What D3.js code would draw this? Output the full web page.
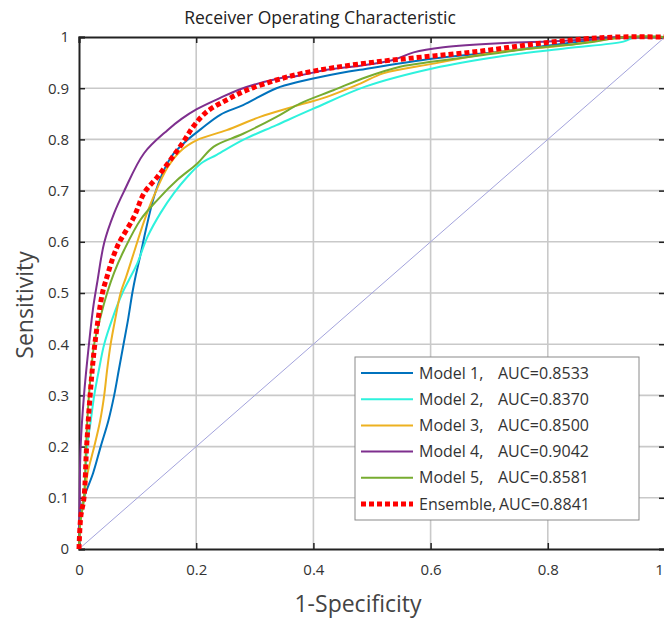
<!DOCTYPE html>
<html><head><meta charset="utf-8">
<script src="https://cdn.jsdelivr.net/npm/d3@7/dist/d3.min.js"></script>
<style>body{margin:0;background:#fff}svg{display:block}text{font-family:"Open Sans",sans-serif}</style>
</head><body><svg id="c" width="664" height="619"></svg>
<script>
const xTicks=[0,0.2,0.4,0.6,0.8,1];
const xTickLabels=["0","0.2","0.4","0.6","0.8","1"];
const yTicks=[0,0.1,0.2,0.3,0.4,0.5,0.6,0.7,0.8,0.9,1];
const yTickLabels=["0","0.1","0.2","0.3","0.4","0.5","0.6","0.7","0.8","0.9","1"];
const seriesNames=["Model 1,","Model 2,","Model 3,","Model 4,","Model 5,","Ensemble,"];
const aucLabels=["AUC=0.8533","AUC=0.8370","AUC=0.8500","AUC=0.9042","AUC=0.8581","AUC=0.8841"];
const model1=[[0,0],[0.002,0.063],[0.0085,0.1],[0.024,0.148],[0.037,0.2],[0.050,0.25],[0.060,0.3],[0.068,0.35],[0.076,0.4],[0.084,0.45],[0.091,0.5],[0.097,0.535],[0.105,0.575],[0.114,0.623],[0.128,0.688],[0.145,0.740],[0.162,0.773],[0.185,0.799],[0.208,0.820],[0.241,0.848],[0.280,0.867],[0.337,0.900],[0.377,0.913],[0.420,0.924],[0.480,0.936],[0.605,0.958],[0.718,0.971],[0.832,0.988],[0.934,1.0],[1,1]];
const model2=[[0,0],[0.002,0.05],[0.0085,0.1],[0.014,0.2],[0.020,0.25],[0.026,0.3],[0.034,0.35],[0.043,0.4],[0.057,0.45],[0.074,0.5],[0.085,0.525],[0.0995,0.558],[0.117,0.610],[0.139,0.656],[0.162,0.695],[0.185,0.727],[0.208,0.753],[0.235,0.770],[0.280,0.799],[0.337,0.828],[0.400,0.860],[0.491,0.904],[0.605,0.939],[0.718,0.962],[0.832,0.978],[0.929,0.991],[0.95,1.0],[1,1]];
const model3=[[0,0],[0.002,0.05],[0.0085,0.1],[0.015,0.15],[0.026,0.2],[0.036,0.25],[0.043,0.3],[0.048,0.35],[0.054,0.4],[0.062,0.45],[0.071,0.5],[0.080,0.53],[0.094,0.58],[0.111,0.640],[0.128,0.690],[0.151,0.745],[0.173,0.777],[0.202,0.799],[0.252,0.818],[0.309,0.844],[0.366,0.864],[0.423,0.883],[0.480,0.909],[0.519,0.929],[0.605,0.948],[0.718,0.971],[0.832,0.984],[0.934,1.0],[1,1]];
const model4=[[0,0],[0.001,0.10],[0.0028,0.2],[0.0085,0.3],[0.017,0.4],[0.024,0.47],[0.031,0.52],[0.043,0.598],[0.060,0.656],[0.077,0.699],[0.111,0.773],[0.151,0.818],[0.175,0.840],[0.201,0.859],[0.241,0.881],[0.275,0.898],[0.337,0.918],[0.377,0.925],[0.423,0.936],[0.480,0.944],[0.536,0.955],[0.571,0.970],[0.622,0.980],[0.718,0.988],[0.80,0.991],[0.923,0.999],[1,1]];
const model5=[[0,0],[0.002,0.05],[0.0085,0.1],[0.012,0.2],[0.017,0.3],[0.026,0.4],[0.036,0.45],[0.048,0.5],[0.060,0.54],[0.077,0.584],[0.105,0.643],[0.134,0.682],[0.168,0.721],[0.202,0.753],[0.230,0.786],[0.280,0.811],[0.337,0.844],[0.377,0.870],[0.434,0.896],[0.491,0.922],[0.548,0.942],[0.605,0.952],[0.690,0.965],[0.775,0.978],[0.860,0.988],[0.934,1.0],[1,1]];
const ensemble=[[0,0],[0.003,0.063],[0.0085,0.1],[0.013,0.2],[0.019,0.3],[0.027,0.4],[0.040,0.5],[0.046,0.525],[0.065,0.590],[0.094,0.649],[0.111,0.695],[0.134,0.727],[0.156,0.760],[0.178,0.795],[0.195,0.825],[0.218,0.854],[0.252,0.877],[0.286,0.896],[0.337,0.916],[0.377,0.928],[0.434,0.940],[0.519,0.953],[0.605,0.963],[0.690,0.973],[0.775,0.986],[0.860,0.996],[0.92,1.0],[1,1]];
const chance=[[0,0],[1,1]];

const svg=d3.select("#c");
const L=79,R=665,T=37,B=549;
const x=d3.scaleLinear().domain([0,1]).range([L,R]);
const y=d3.scaleLinear().domain([0,1]).range([B,T]);

// grid
svg.append("g").selectAll("line").data(xTicks.slice(1,-1)).join("line")
 .attr("x1",d=>x(d)).attr("x2",d=>x(d)).attr("y1",T).attr("y2",B)
 .attr("stroke","#c9c9c9").attr("stroke-width",1.6);
svg.append("g").selectAll("line").data(yTicks.slice(1,-1)).join("line")
 .attr("y1",d=>y(d)).attr("y2",d=>y(d)).attr("x1",L).attr("x2",R)
 .attr("stroke","#c9c9c9").attr("stroke-width",1.6);

// axes
const xAxis=d3.axisBottom(x).tickValues(xTicks).tickFormat((d,i)=>xTickLabels[i]).tickSize(-6).tickPadding(15);
const yAxis=d3.axisLeft(y).tickValues(yTicks).tickFormat((d,i)=>yTickLabels[i]).tickSize(-6).tickPadding(10);
const xTop=d3.axisTop(x).tickValues(xTicks).tickFormat("").tickSize(-6);
const yRight=d3.axisRight(y).tickValues(yTicks).tickFormat("").tickSize(-6);
function style(g){g.selectAll("path").attr("stroke","#222").attr("stroke-width",2);
 g.selectAll("line").attr("stroke","#222").attr("stroke-width",1.5);
 g.selectAll("text").attr("fill","#333").style("font-size","15px").style("font-family",'"Open Sans",sans-serif');}
const gx=svg.append("g").attr("transform",`translate(0,${B})`).call(xAxis).call(style);
gx.selectAll(".tick").filter(d=>d===1).select("text").attr("x",-6);
svg.append("g").attr("transform",`translate(${L},0)`).call(yAxis).call(style);
svg.append("g").attr("transform",`translate(0,${T})`).call(xTop).call(style);
svg.append("g").attr("transform",`translate(${R},0)`).call(yRight).call(style);

// curves
const line=d3.line().x(d=>x(d[0])).y(d=>y(d[1])).curve(d3.curveCatmullRom.alpha(0.5));
svg.append("path").datum(chance).attr("d",d3.line().x(d=>x(d[0])).y(d=>y(d[1])))
 .attr("fill","none").attr("stroke","#a3a3dc").attr("stroke-width",1);
const series=[model1,model2,model3,model4,model5];
const colors=["#0072BD","#2ef2dd","#EDB120","#7E2F8E","#77AC30","#ff0000"];
const cg=svg.append("g");
series.forEach((s,i)=>{cg.append("path").datum(s).attr("d",line).attr("fill","none")
 .attr("stroke",colors[i]).attr("stroke-width",2);});
cg.append("path").datum(ensemble).attr("d",line).attr("fill","none")
 .attr("stroke",colors[5]).attr("stroke-width",5).attr("stroke-dasharray","5,3");

// legend
const lg=svg.append("g");
lg.append("rect").attr("x",355).attr("y",357).attr("width",284).attr("height",163)
 .attr("fill","#fff").attr("stroke","#8a8a8a").attr("stroke-width",1);
const ly=d3.scaleLinear().domain([0,5]).range([373,504]);
seriesNames.forEach((n,i)=>{
 lg.append("line").attr("x1",361).attr("x2",413).attr("y1",ly(i)).attr("y2",ly(i))
  .attr("stroke",colors[i]).attr("stroke-width",i===5?5:2).attr("stroke-dasharray",i===5?"5,3":null);
 lg.append("text").attr("x",419).attr("y",ly(i)).attr("dy","0.35em").attr("fill","#333")
  .style("font-size","16px").text(n);
 lg.append("text").attr("x",i===5?499:498).attr("y",ly(i)).attr("dy","0.35em").attr("fill","#333")
  .style("font-size","16px").text(aucLabels[i]);
});

// titles
svg.append("text").attr("x",320).attr("y",24).attr("text-anchor","middle").attr("fill","#222")
 .style("font-size","17.5px").text("Receiver Operating Characteristic");
svg.append("text").attr("x",358).attr("y",612).attr("text-anchor","middle").attr("fill","#444")
 .style("font-size","23px").text("1-Specificity");
svg.append("text").attr("transform","translate(33,305) rotate(-90)").attr("text-anchor","middle").attr("fill","#444")
 .style("font-size","23px").text("Sensitivity");
</script></body></html>
